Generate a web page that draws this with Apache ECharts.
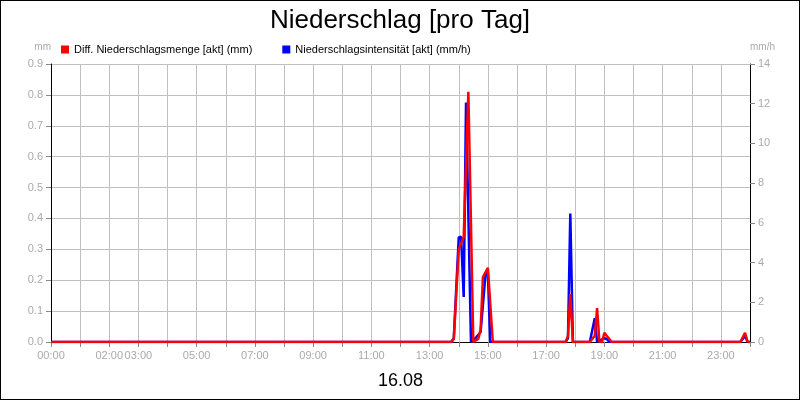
<!DOCTYPE html><html><head><meta charset="utf-8"><script src="https://cdn.jsdelivr.net/npm/echarts@6/dist/echarts.min.js"></script>
<style>body{margin:0}#c{width:798px;height:398px;border:1px solid #000}</style></head><body><div id="c"></div><script>
const xLabels={0:'00:00',2:'02:00',3:'03:00',5:'05:00',7:'07:00',9:'09:00',11:'11:00',13:'13:00',15:'15:00',17:'17:00',19:'19:00',21:'21:00',23:'23:00'};
// [hour, value]
const mengeData=[[0,0],[13.75,0],[13.83,0.01],[14.0,0.3],[14.17,0.34],[14.33,0.81],[14.5,0],[14.67,0.01],[14.75,0.04],[14.83,0.21],[15.0,0.24],[15.17,0],[17.67,0],[17.75,0.02],[17.83,0.155],[17.92,0],[18.5,0],[18.67,0.02],[18.75,0.11],[18.83,0],[18.92,0],[19.0,0.03],[19.08,0.02],[19.25,0],[23.67,0],[23.83,0.03],[23.92,0],[24,0]];
const intensData=[[0,0],[13.75,0],[13.83,0.2],[14.0,5.27],[14.08,5.3],[14.17,2.27],[14.25,12.06],[14.42,0],[14.58,0.2],[14.75,0.5],[14.92,3.4],[15.0,3.5],[15.08,0],[17.67,0],[17.75,0.2],[17.83,6.47],[17.92,0],[18.5,0],[18.67,1.2],[18.75,0],[19.0,0.2],[19.08,0.15],[19.17,0],[23.67,0],[23.83,0.3],[23.92,0],[24,0]];
const c=echarts.init(document.getElementById('c'));
const gray='#aaa';
c.setOption({animation:false,
title:{text:'Niederschlag [pro Tag]',left:'center',top:2,textStyle:{fontFamily:'Liberation Sans',fontSize:26,fontWeight:'normal',color:'#000'}},
legend:{top:38,left:55,itemWidth:8,itemHeight:8,itemGap:30,icon:'rect',textStyle:{fontFamily:'Liberation Sans',fontSize:11,color:'#000'},
 data:['Diff. Niederschlagsmenge [akt] (mm)','Niederschlagsintensität [akt] (mm/h)']},
grid:{left:50,right:49,top:63,bottom:57},
xAxis:{type:'value',min:0,max:24,interval:1,name:'16.08',nameLocation:'middle',nameGap:30,nameTextStyle:{fontSize:18,color:'#000',fontFamily:'Liberation Sans'},
 axisLine:{lineStyle:{color:'#000'}},axisTick:{lineStyle:{color:'#888'}},
 axisLabel:{color:gray,fontFamily:'Liberation Sans',fontSize:11,formatter:v=>xLabels[v]||''},splitLine:{lineStyle:{color:'#c0c0c0'}}},
yAxis:[{type:'value',min:0,max:0.9,interval:0.1,name:'mm',nameGap:12,nameTextStyle:{color:gray,align:'right',fontSize:10},
 axisLine:{show:true,lineStyle:{color:'#000'}},axisTick:{show:true,lineStyle:{color:'#888'}},
 axisLabel:{color:gray,fontSize:11,formatter:v=>v.toFixed(1)},splitLine:{lineStyle:{color:'#c0c0c0'}}},
 {type:'value',min:0,max:14,interval:2,name:'mm/h',nameGap:12,nameTextStyle:{color:gray,align:'left',fontSize:10},
 axisLine:{show:true,lineStyle:{color:'#000'}},axisTick:{show:true,lineStyle:{color:'#888'}},
 axisLabel:{color:gray,fontSize:11},splitLine:{show:false}}],
series:[
{name:'Niederschlagsintensität [akt] (mm/h)',type:'line',yAxisIndex:1,data:intensData,showSymbol:false,lineStyle:{color:'#0000ff',width:2.5},itemStyle:{color:'#0000ff'},z:2},
{name:'Diff. Niederschlagsmenge [akt] (mm)',type:'line',yAxisIndex:0,data:mengeData,showSymbol:false,lineStyle:{color:'#ff0000',width:2.5},itemStyle:{color:'#ff0000'},z:3}
]});
</script></body></html>
